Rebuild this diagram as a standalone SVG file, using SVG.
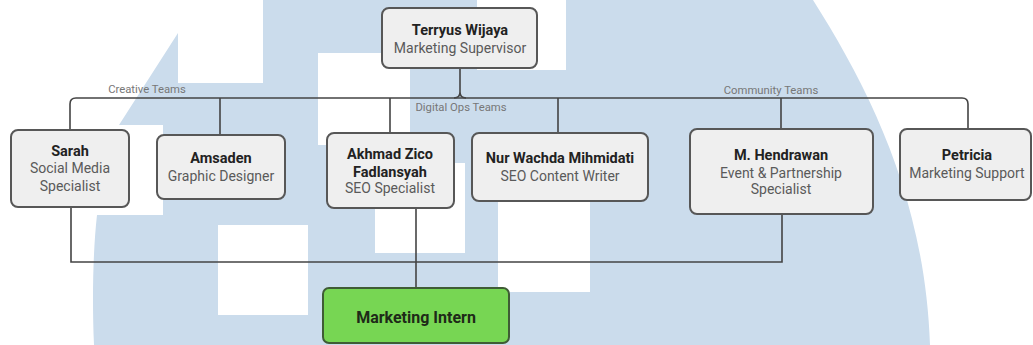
<svg xmlns="http://www.w3.org/2000/svg" width="1033" height="345" viewBox="0 0 1033 345">
<style>
.bg{fill:#cbdcec}
.wh{fill:#ffffff}
.box{fill:#efefef;stroke:#575757;stroke-width:2}
.intern{fill:#77d653;stroke:#3f5c35;stroke-width:2}
.name{font-family:Roboto,"Liberation Sans",sans-serif;font-weight:bold;font-size:14.5px;fill:#222;text-anchor:middle}
.role{font-family:Roboto,"Liberation Sans",sans-serif;font-size:14px;fill:#5a5a5a;text-anchor:middle}
.lbl{font-family:Roboto,"Liberation Sans",sans-serif;font-size:11.3px;fill:#777;text-anchor:middle}
.con{fill:none;stroke:#444;stroke-width:1.6}
</style>
<rect width="1033" height="345" fill="#fff"/>
<g id="watermark">
<path class="bg" d="M263,0 H813 C870,90 925,200 930,345 H94 C92,300 93,250 97,215 H163 V125 H119 L178,33 V83 H263 Z"/>
<rect class="wh" x="318" y="53" width="92" height="92"/>
<rect class="wh" x="477" y="0" width="89" height="70"/>
<rect class="wh" x="375" y="163" width="90" height="90"/>
<rect class="wh" x="218" y="225" width="90" height="90"/>
<rect class="wh" x="498" y="200" width="92" height="92"/>
</g>
<g id="connectors">
<path class="con" d="M70,130 V104 Q70,98 76,98 H962 Q968,98 968,104 V129"/>
<path class="con" d="M460,68 V92 Q460,98 454,98 M460,92 Q460,98 466,98"/>
<path class="con" d="M220,98 V135 M390,98 V133 M558,98 V132 M781,98 V129"/>
<path class="con" d="M71,207 V262 H782 V214"/>
<path class="con" d="M416,208 V288"/>
</g>
<g id="labels">
<text class="lbl" x="147" y="93">Creative Teams</text>
<text class="lbl" x="461" y="111">Digital Ops Teams</text>
<text class="lbl" x="771" y="94">Community Teams</text>
</g>
<g id="supervisor">
<rect class="box" x="382" y="8" width="155" height="60" rx="7"/>
<text class="name" x="460" y="35">Terryus Wijaya</text>
<text class="role" x="460" y="53">Marketing Supervisor</text>
</g>
<g id="sarah">
<rect class="box" x="11" y="130" width="118" height="77" rx="7"/>
<text class="name" x="70" y="156">Sarah</text>
<text class="role" x="70" y="173">Social Media</text>
<text class="role" x="70" y="191">Specialist</text>
</g>
<g id="amsaden">
<rect class="box" x="157" y="135" width="128" height="64" rx="7"/>
<text class="name" x="221" y="163">Amsaden</text>
<text class="role" x="221" y="181">Graphic Designer</text>
</g>
<g id="akhmad">
<rect class="box" x="327" y="133" width="127" height="75" rx="7"/>
<text class="name" x="390" y="159">Akhmad Zico</text>
<text class="name" x="390" y="177">Fadlansyah</text>
<text class="role" x="390" y="193">SEO Specialist</text>
</g>
<g id="nur">
<rect class="box" x="472" y="133" width="176" height="68" rx="7"/>
<text class="name" x="560" y="163">Nur Wachda Mihmidati</text>
<text class="role" x="560" y="181">SEO Content Writer</text>
</g>
<g id="hendrawan">
<rect class="box" x="690" y="129" width="183" height="85" rx="7"/>
<text class="name" x="781" y="160">M. Hendrawan</text>
<text class="role" x="781" y="178">Event &amp; Partnership</text>
<text class="role" x="781" y="194">Specialist</text>
</g>
<g id="petricia">
<rect class="box" x="900" y="129" width="131" height="71" rx="7"/>
<text class="name" x="967" y="160">Petricia</text>
<text class="role" x="967" y="178">Marketing Support</text>
</g>
<g id="intern">
<rect class="intern" x="323" y="288" width="186" height="55" rx="6"/>
<text class="name" x="416" y="323" style="font-size:16px;fill:#1e2a18">Marketing Intern</text>
</g>
</svg>
